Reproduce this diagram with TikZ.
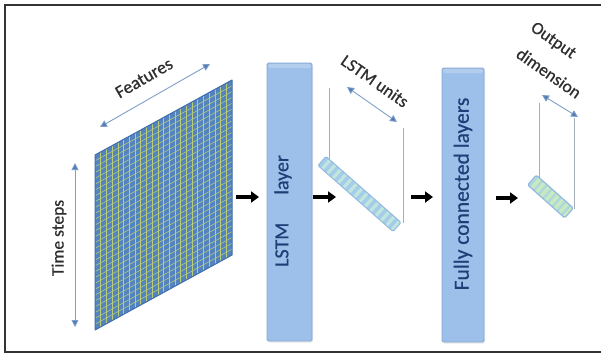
\documentclass[tikz,border=0pt]{standalone}
\usepackage{fontspec}
\setmainfont{Carlito}
\newfontfamily\lblfont{Carlito}[FakeBold=0.6]
\usetikzlibrary{arrows.meta,calc,shadows}
\definecolor{gridblue}{HTML}{5484C0}
\definecolor{gridline}{HTML}{B9CC7A}
\definecolor{gridedge}{HTML}{3E6EAD}
\definecolor{dimblue}{HTML}{4E7BB4}
\definecolor{dimshaft}{HTML}{7F9FC8}
\definecolor{boxblue}{HTML}{9DC0EA}
\definecolor{boxedge}{HTML}{86A8D6}
\definecolor{boxtop}{HTML}{B3CDEF}
\definecolor{boxtext}{HTML}{1F3E78}
\definecolor{labelgray}{HTML}{2E2E2E}
\definecolor{guidegray}{HTML}{A3AEBB}
\definecolor{barfill}{HTML}{C2E6DC}
\definecolor{barstripe}{HTML}{A3CDEB}
\definecolor{baredge}{HTML}{93B9E3}
\definecolor{outfill}{HTML}{C8EAC0}
\definecolor{framegray}{HTML}{333333}
\tikzset{
  dimarrow/.style={draw=dimshaft, line width=0.9pt,
    {Triangle[width=7pt,length=7pt,fill=dimblue]}-{Triangle[width=7pt,length=7pt,fill=dimblue]}},
  flowarrow/.style={draw=black, line width=3.6pt, -{Triangle[width=11pt,length=8pt]}},
  layerbox/.style={draw=boxedge, fill=boxblue, line width=0.8pt, rounded corners=1.5pt,
    drop shadow={opacity=0.18, shadow xshift=1.2pt, shadow yshift=-1.5pt}},
  lbl/.style={text=labelgray, inner sep=0pt},
  boxlbl/.style={text=boxtext, inner sep=0pt},
  guide/.style={draw=guidegray, line width=0.8pt},
}
\begin{document}
\begin{tikzpicture}[x=1pt,y=-1pt]
\useasboundingbox (0,0) rectangle (601,354);
\fill[white] (0,0) rectangle (601,354);
\draw[framegray, line width=1.8pt] (603,5) -- (5,5) -- (5,352) -- (603,352);

% ---- input grid ----
\coordinate (gA) at (95,155);
\coordinate (gB) at (232,80);
\coordinate (gC) at (232,255);
\coordinate (gD) at (95,330);
\fill[gridblue] (gA) -- (gB) -- (gC) -- (gD) -- cycle;
\foreach \i in {1,...,23}{
  \draw[gridline, line width=0.55pt] ($(gA)!{\i/24}!(gB)$) -- ($(gD)!{\i/24}!(gC)$);
}
\foreach \j in {1,...,29}{
  \draw[gridline, line width=0.55pt] ($(gA)!{\j/30}!(gD)$) -- ($(gB)!{\j/30}!(gC)$);
}
\draw[gridedge, line width=1pt, line join=round] (gA) -- (gB) -- (gC) -- (gD) -- cycle;

% Features
\coordinate (fL) at (100,127);
\coordinate (fR) at (210,64);
\draw[dimarrow] (fL) -- (fR);
\node[lbl, rotate=30, font=\lblfont\fontsize{18}{21}\selectfont] (feat) at (144,78) {Features};

% Time steps
\coordinate (tT) at (75,163);
\coordinate (tB) at (75,327);
\draw[dimarrow] (tT) -- (tB);
\node[lbl, rotate=90, font=\lblfont\fontsize{17.5}{20}\selectfont] (time) at (59,238) {Time steps};

% ---- LSTM layer ----
\node[layerbox, minimum width=45pt, minimum height=278pt] (lstm) at (289.5,202) {};
\fill[boxtop, rounded corners=1.5pt] (268,64) rectangle (311,68);
\node[boxlbl, rotate=90, font=\lblfont\fontsize{20}{24}\selectfont] (lstmtxt) at (283,211) {LSTM\hspace{28pt}layer};

% ---- Fully connected ----
\node[layerbox, minimum width=42pt, minimum height=274pt] (fc) at (463,205) {};
\fill[boxtop, rounded corners=1.5pt] (443,69) rectangle (483,73);
\node[boxlbl, rotate=90, font=\lblfont\fontsize{21.5}{25}\selectfont] (fctxt) at (463,194) {Fully connected layers};

% ---- flow arrows ----
\coordinate (a1s) at (236,197); \coordinate (a1e) at (259,197);
\coordinate (a2s) at (313,197); \coordinate (a2e) at (336,197);
\coordinate (a3s) at (411,197); \coordinate (a3e) at (433,197);
\coordinate (a4s) at (496,198); \coordinate (a4e) at (518,198);
\draw[flowarrow] (a1s) -- (a1e);
\draw[flowarrow] (a2s) -- (a2e);
\draw[flowarrow] (a3s) -- (a3e);
\draw[flowarrow] (a4s) -- (a4e);

% ---- LSTM units vector ----
\coordinate (U1) at (326,156.5);
\coordinate (U2) at (318,165.5);
\coordinate (U3) at (393,231.5);
\coordinate (U4) at (401,222.5);
\coordinate (ug1t) at (329,88); \coordinate (ug1b) at (329,158.5);
\coordinate (ug2t) at (403,128); \coordinate (ug2b) at (403,223);
\draw[guide] (ug1t) -- (ug1b);
\draw[guide] (ug2t) -- (ug2b);
\fill[barfill] (U1) -- (U2) -- (U3) -- (U4) -- cycle;
\foreach \i in {0,...,13}{
  \fill[barstripe] ($(U1)!{\i/14}!(U4)$) -- ($(U1)!{(\i+0.5)/14}!(U4)$) -- ($(U2)!{(\i+0.5)/14}!(U3)$) -- ($(U2)!{\i/14}!(U3)$) -- cycle;
}
\draw[baredge, line width=1pt, rounded corners=1.5pt] (U1) -- (U2) -- (U3) -- (U4) -- cycle;
\coordinate (uaL) at (347,87);
\coordinate (uaR) at (397,122);
\draw[dimarrow] (uaL) -- (uaR);
\node[lbl, rotate=-35, font=\lblfont\fontsize{17.5}{20}\selectfont] (units) at (375,81) {LSTM units};

% ---- Output vector ----
\coordinate (Q1) at (536.3,175.1);
\coordinate (Q2) at (527.7,184.9);
\coordinate (Q3) at (564.7,217.9);
\coordinate (Q4) at (573.3,208.1);
\coordinate (og1t) at (539,103); \coordinate (og1b) at (539,177.5);
\coordinate (og2t) at (574,118); \coordinate (og2b) at (574,209);
\draw[guide] (og1t) -- (og1b);
\draw[guide] (og2t) -- (og2b);
\fill[outfill] (Q1) -- (Q2) -- (Q3) -- (Q4) -- cycle;
\foreach \i in {0,...,7}{
  \fill[barstripe!70!outfill] ($(Q1)!{\i/8+0.02}!(Q4)$) -- ($(Q1)!{(\i+0.35)/8+0.02}!(Q4)$) -- ($(Q2)!{(\i+0.35)/8+0.02}!(Q3)$) -- ($(Q2)!{\i/8+0.02}!(Q3)$) -- cycle;
}
\draw[baredge, line width=1.2pt, rounded corners=1.5pt] (Q1) -- (Q2) -- (Q3) -- (Q4) -- cycle;
\coordinate (oaL) at (542,95);
\coordinate (oaR) at (578,117);
\draw[dimarrow] (oaL) -- (oaR);
\node[lbl, rotate=-35, font=\lblfont\fontsize{17.5}{20}\selectfont] (outa) at (553,41) {Output};
\node[lbl, rotate=-35, font=\lblfont\fontsize{17.5}{20}\selectfont] (outb) at (549,73) {dimension};
\end{tikzpicture}
\end{document}
